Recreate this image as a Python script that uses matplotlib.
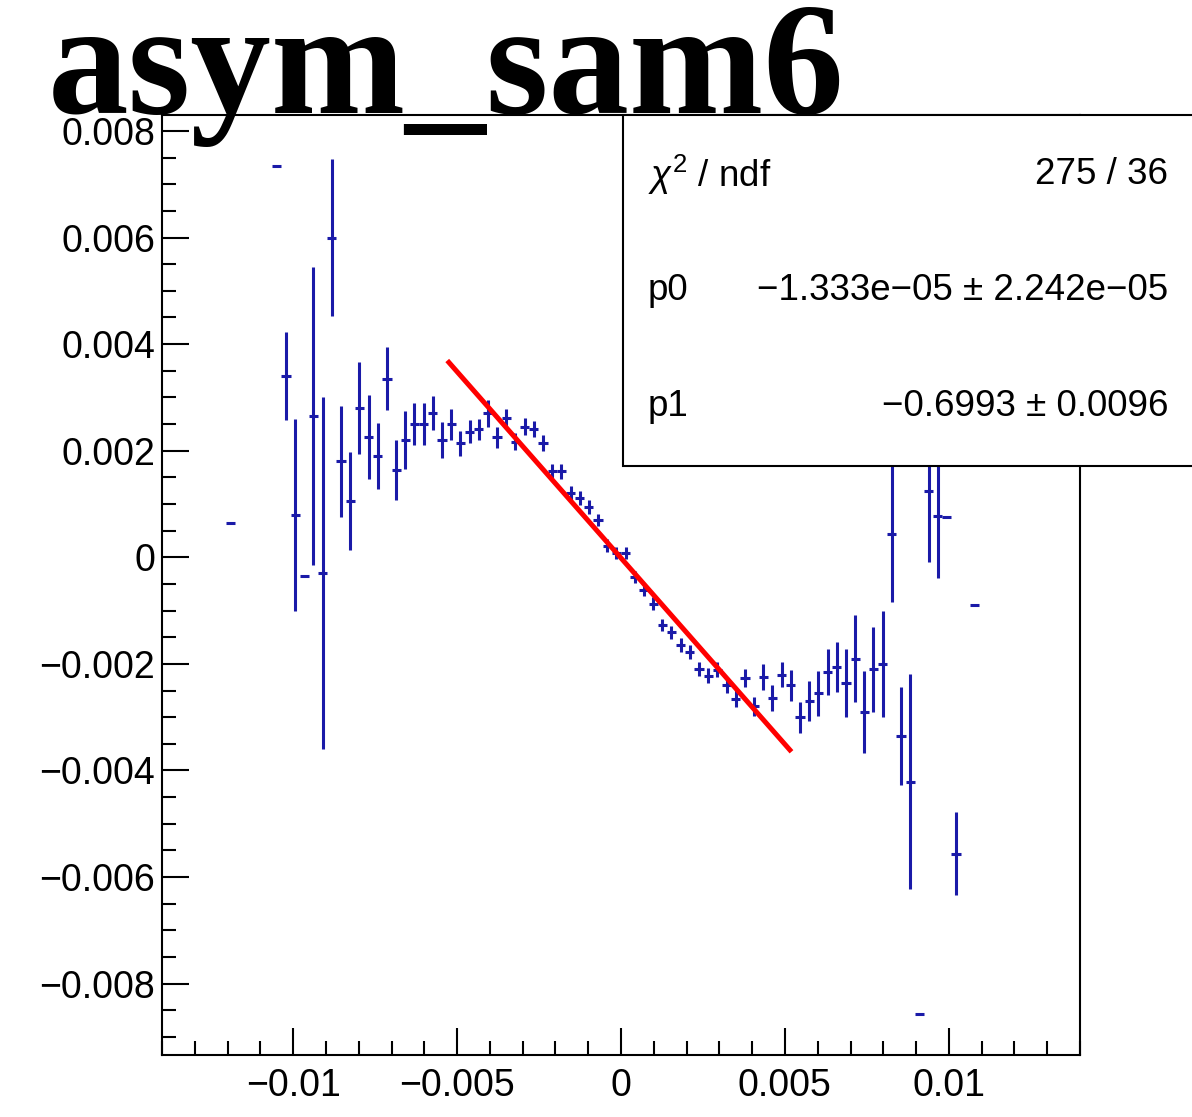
import matplotlib.pyplot as plt
from matplotlib.patches import Rectangle
from matplotlib.ticker import FixedLocator, FixedFormatter, MultipleLocator

# Histogram points (bin centers, contents, errors)
x_vals = [-0.01190, -0.01050, -0.01022, -0.00994, -0.00966, -0.00938, -0.00910, -0.00882,
          -0.00854, -0.00826, -0.00798, -0.00770, -0.00742, -0.00714, -0.00686, -0.00658,
          -0.00630, -0.00602, -0.00574, -0.00546, -0.00518, -0.00490, -0.00462, -0.00434,
          -0.00406, -0.00378, -0.00350, -0.00322, -0.00294, -0.00266, -0.00238, -0.00210,
          -0.00182, -0.00154, -0.00126, -0.00098, -0.00070, -0.00042, -0.00014, 0.00014,
          0.00042, 0.00070, 0.00098, 0.00126, 0.00154, 0.00182, 0.00210, 0.00238,
          0.00266, 0.00294, 0.00322, 0.00350, 0.00378, 0.00406, 0.00434, 0.00462,
          0.00490, 0.00518, 0.00546, 0.00574, 0.00602, 0.00630, 0.00658, 0.00686,
          0.00714, 0.00742, 0.00770, 0.00798, 0.00826, 0.00854, 0.00882, 0.00910,
          0.00938, 0.00966, 0.00994, 0.01022, 0.01078]
y_vals = [0.00064, 0.00735, 0.00340, 0.00080, -0.00036, 0.00265, -0.00030, 0.00600,
          0.00180, 0.00105, 0.00280, 0.00226, 0.00190, 0.00335, 0.00164, 0.00220,
          0.00250, 0.00250, 0.00270, 0.00220, 0.00250, 0.00214, 0.00236, 0.00240,
          0.00270, 0.00225, 0.00261, 0.00217, 0.00245, 0.00240, 0.00214, 0.00161,
          0.00161, 0.00120, 0.00111, 0.00095, 0.00070, 0.00022, 0.00008, 0.00008,
          -0.00037, -0.00061, -0.00087, -0.00127, -0.00141, -0.00165, -0.00177, -0.00210,
          -0.00222, -0.00211, -0.00239, -0.00265, -0.00227, -0.00280, -0.00225, -0.00264,
          -0.00220, -0.00240, -0.00300, -0.00270, -0.00255, -0.00215, -0.00206, -0.00236,
          -0.00190, -0.00291, -0.00210, -0.00200, 0.00044, -0.00335, -0.00421, -0.00857,
          0.00125, 0.00078, 0.00075, -0.00556, -0.00090]
y_errs = [0.0, 0.0, 0.00082, 0.00180, 0.0, 0.00279, 0.00330, 0.00147,
          0.00104, 0.00092, 0.00086, 0.00079, 0.00062, 0.00059, 0.00057, 0.00055,
          0.00040, 0.00040, 0.00032, 0.00034, 0.00029, 0.00023, 0.00022, 0.00020,
          0.00025, 0.00020, 0.00018, 0.00016, 0.00016, 0.00015, 0.00015, 0.00014,
          0.00014, 0.00013, 0.00013, 0.00013, 0.00012, 0.00012, 0.00012, 0.00012,
          0.00012, 0.00012, 0.00012, 0.00012, 0.00012, 0.00013, 0.00013, 0.00013,
          0.00014, 0.00014, 0.00015, 0.00016, 0.00017, 0.00018, 0.00024, 0.00024,
          0.00024, 0.00029, 0.00029, 0.00037, 0.00042, 0.00043, 0.00047, 0.00064,
          0.00082, 0.00077, 0.00080, 0.00100, 0.00127, 0.00092, 0.00202, 0.0,
          0.00133, 0.00116, 0.0, 0.00078, 0.0]
bin_half_width = 0.00014

# Linear fit result
p0 = -1.333e-05
p1 = -0.6993
fit_range = [-0.0053, 0.0052]
stats_rows = [(r'$\chi^{2}$ / ndf', '275 / 36'),
              ('p0', '\u22121.333e\u221205 \u00b1 2.242e\u221205'),
              ('p1', '\u22120.6993 \u00b1 0.0096')]

x_ticks = [-0.01, -0.005, 0, 0.005, 0.01]
x_labels = ['\u22120.01', '\u22120.005', '0', '0.005', '0.01']
y_ticks = [0.008, 0.006, 0.004, 0.002, 0, -0.002, -0.004, -0.006, -0.008]
y_labels = ['0.008', '0.006', '0.004', '0.002', '0', '\u22120.002', '\u22120.004',
            '\u22120.006', '\u22120.008']

plt.rcParams['font.family'] = ['Liberation Sans', 'DejaVu Sans']
plt.rcParams['mathtext.fontset'] = 'custom'
plt.rcParams['mathtext.rm'] = 'Liberation Sans'
plt.rcParams['mathtext.it'] = 'Liberation Sans:italic'

W, H = 1192, 1117
fig = plt.figure(figsize=(W / 100, H / 100), dpi=100)
ax = fig.add_axes([162 / W, 1 - 1055 / H, (1080 - 162) / W, (1055 - 115) / H])

ax.errorbar(x_vals, y_vals, yerr=y_errs, xerr=bin_half_width, fmt='none',
            ecolor='#1a1aa8', elinewidth=2.2, capsize=0, zorder=2)

fx = fit_range
fy = [p0 + p1 * v for v in fx]
ax.plot(fx, fy, color='#ff0000', lw=3.6, zorder=3, solid_capstyle='butt')

ax.set_xlim(-0.014, 0.014)
ax.set_ylim(-0.00934, 0.0083)

ax.xaxis.set_major_locator(FixedLocator(x_ticks))
ax.xaxis.set_major_formatter(FixedFormatter(x_labels))
ax.xaxis.set_minor_locator(MultipleLocator(0.001))
ax.yaxis.set_major_locator(FixedLocator(y_ticks))
ax.yaxis.set_major_formatter(FixedFormatter(y_labels))
ax.yaxis.set_minor_locator(MultipleLocator(0.0005))

ax.tick_params(which='both', direction='in', top=False, right=False, width=1.5, colors='black')
ax.tick_params(which='major', length=19.5, labelsize=27)
ax.tick_params(which='minor', length=10)
ax.tick_params(axis='y', pad=5)
ax.tick_params(axis='x', pad=9)
for sp in ax.spines.values():
    sp.set_linewidth(1.5)
    sp.set_color('black')

# Title in big bold serif
fig.text(48 / W, 1 - 113 / H, 'asym_sam6', family=['Liberation Serif', 'DejaVu Serif'],
         fontweight='bold', fontsize=116, ha='left', va='baseline', zorder=5)

# Stats box (extends past the right edge of the canvas)
box = Rectangle((623 / W, 1 - 466 / H), 1.0, (466 - 115) / H, transform=fig.transFigure,
                facecolor='white', edgecolor='black', lw=1.5, zorder=6)
fig.patches.append(box)
row_y = [175, 290, 407]
for (name, val), ry in zip(stats_rows, row_y):
    fig.text(648 / W, 1 - ry / H, name, fontsize=26.5, ha='left', va='center', zorder=7)
    fig.text(1168 / W, 1 - ry / H, val, fontsize=26.5, ha='right', va='center', zorder=7)

fig.savefig('out.png', dpi=100)
